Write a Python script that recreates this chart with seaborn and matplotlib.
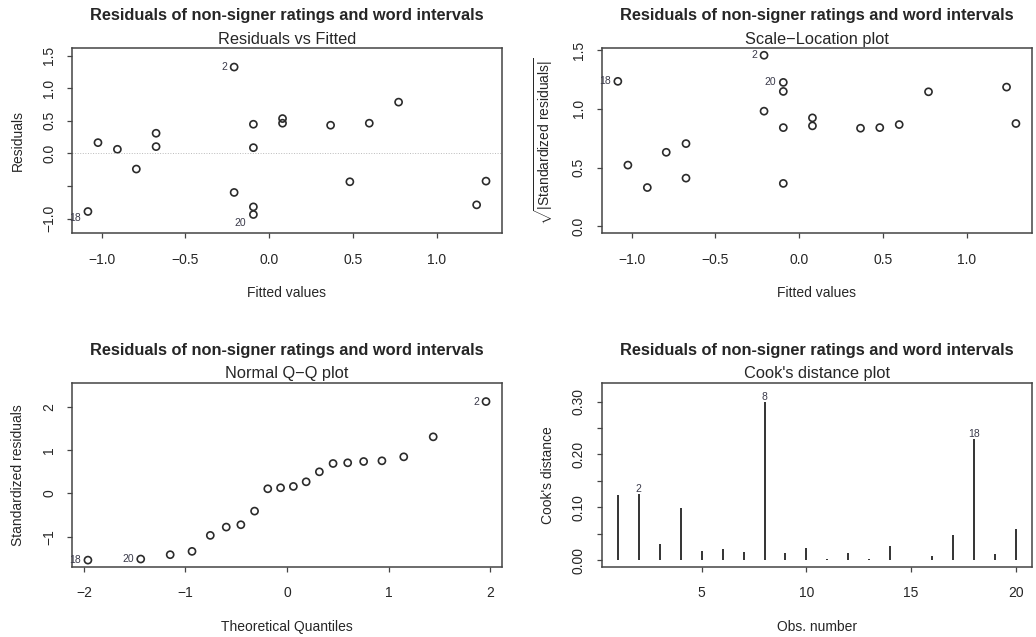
import numpy as np
import pandas as pd
import matplotlib
matplotlib.use("Agg")
import matplotlib.pyplot as plt
import seaborn as sns

# --- dados ---
fitted = [-1.022, -0.906, -0.793, -0.675, -0.675, -1.082, -0.209, -0.209, -0.094, -0.094,
          -0.094, -0.094, 0.080, 0.080, 0.367, 0.482, 0.598, 0.773, 1.239, 1.295]
residuals = [0.164, 0.062, -0.241, 0.308, 0.103, -0.892, 1.323, -0.600, 0.446, 0.087,
             -0.821, -0.938, 0.533, 0.462, 0.431, -0.436, 0.462, 0.785, -0.790, -0.426]
point_ids = ["", "", "", "", "", "18", "2", "", "", "",
             "", "20", "", "", "", "", "", "", "", ""]

sqrt_std_resid = [0.521, 0.330, 0.630, 0.704, 0.410, 1.234, 1.456, 0.980, 0.840, 0.365,
                  1.148, 1.225, 0.923, 0.855, 0.835, 0.840, 0.866, 1.145, 1.185, 0.875]

theo_quant = [-1.960, -1.440, -1.150, -0.935, -0.755, -0.598, -0.454, -0.319, -0.189, -0.063,
              0.063, 0.189, 0.319, 0.454, 0.598, 0.755, 0.935, 1.150, 1.440, 1.960]
std_resid_sorted = [-1.540, -1.515, -1.415, -1.338, -0.969, -0.777, -0.723, -0.408, 0.108, 0.131,
                    0.162, 0.269, 0.500, 0.692, 0.708, 0.738, 0.754, 0.846, 1.308, 2.123]
qq_ids = ["18", "20", "", "", "", "", "", "", "", "",
          "", "", "", "", "", "", "", "", "", "2"]

obs_number = list(range(1, 21))
cooks_d = [0.1225, 0.126, 0.031, 0.098, 0.018, 0.021, 0.016, 0.300, 0.014, 0.023,
           0.002, 0.014, 0.003, 0.026, 0.001, 0.008, 0.047, 0.229, 0.011, 0.059]
cook_ids = ["", "2", "", "", "", "", "", "8", "", "",
            "", "", "", "", "", "", "", "18", "", ""]

main_title = "Residuals of non-signer ratings and word intervals"

sns.set_theme(style="white")
plt.rcParams["font.family"] = ["Liberation Sans", "DejaVu Sans"]
plt.rcParams["mathtext.fontset"] = "custom"
plt.rcParams["mathtext.rm"] = "Liberation Sans"
plt.rcParams["mathtext.it"] = "Liberation Sans"

INK = "#2b2b2b"
LBL = "#3a3a4a"
FS = 10
FT = 11.8


def pad(lo, hi, f=0.04):
    # margem de 4% como no R
    d = hi - lo
    return lo - f * d, hi + f * d


def rotulos(ax, xs, ys, ids, offsets):
    for x, y, lab in zip(xs, ys, ids):
        if lab:
            dx, dy = offsets.get(lab, (-5, 0))
            ax.annotate(lab, (x, y), xytext=(dx, dy), textcoords="offset points",
                        ha="right", va="center", fontsize=7.5, color=LBL)


fig = plt.figure(figsize=(10.36, 6.37), dpi=100)
ax1 = fig.add_axes([0.0695, 0.634, 0.415, 0.290])
ax2 = fig.add_axes([0.581, 0.634, 0.415, 0.290])
ax3 = fig.add_axes([0.0695, 0.110, 0.415, 0.289])
ax4 = fig.add_axes([0.581, 0.110, 0.415, 0.289])

mk = dict(marker="o", s=26, facecolor="none", edgecolor=INK, linewidth=1.2, legend=False)

# 1) Residuals vs Fitted
df1 = pd.DataFrame({"fitted": fitted, "resid": residuals})
sns.scatterplot(data=df1, x="fitted", y="resid", ax=ax1, **mk)
ax1.axhline(0, color="#bbbbbb", lw=0.7, ls=":")
rlo, rhi = min(residuals), max(residuals)
ax1.set_ylim(*pad(rlo - 0.08 * (rhi - rlo), rhi + 0.08 * (rhi - rlo)))
ax1.set_xlim(*pad(min(fitted), max(fitted)))
ax1.set_xticks([-1.0, -0.5, 0.0, 0.5, 1.0])
ax1.set_xticklabels(["-1.0", "-0.5", "0.0", "0.5", "1.0"])
ax1.set_yticks([-1.0, -0.5, 0.0, 0.5, 1.0, 1.5])
ax1.set_yticklabels(["-1.0", "", "0.0", "0.5", "1.0", "1.5"])
rotulos(ax1, fitted, residuals, point_ids, {"18": (-5, -5), "20": (-5, -6)})

# 2) Scale-Location
df2 = pd.DataFrame({"fitted": fitted, "sq": sqrt_std_resid})
sns.scatterplot(data=df2, x="fitted", y="sq", ax=ax2, **mk)
ax2.set_ylim(*pad(0, max(sqrt_std_resid)))
ax2.set_xlim(*pad(min(fitted), max(fitted)))
ax2.set_xticks([-1.0, -0.5, 0.0, 0.5, 1.0])
ax2.set_xticklabels(["-1.0", "-0.5", "0.0", "0.5", "1.0"])
ax2.set_yticks([0.0, 0.5, 1.0, 1.5])
ax2.set_yticklabels(["0.0", "0.5", "1.0", "1.5"])
rotulos(ax2, fitted, sqrt_std_resid, point_ids, {})

# 3) Normal Q-Q
df3 = pd.DataFrame({"q": theo_quant, "r": std_resid_sorted})
sns.scatterplot(data=df3, x="q", y="r", ax=ax3, **mk)
qlo, qhi = min(std_resid_sorted), max(std_resid_sorted)
ax3.set_ylim(*pad(qlo, qhi + 0.075 * (qhi - qlo)))
ax3.set_xlim(*pad(min(theo_quant), max(theo_quant)))
ax3.set_xticks([-2, -1, 0, 1, 2])
ax3.set_xticklabels(["-2", "-1", "0", "1", "2"])
ax3.set_yticks([-1, 0, 1, 2])
ax3.set_yticklabels(["-1", "0", "1", "2"])
rotulos(ax3, theo_quant, std_resid_sorted, qq_ids, {})

# 4) Cook's distance
ax4.vlines(obs_number, 0, cooks_d, color="#333333", lw=1.4)
ax4.set_ylim(*pad(0, max(cooks_d) * 1.075))
ax4.set_xlim(*pad(1, 20))
ax4.set_xticks([5, 10, 15, 20])
ax4.set_xticklabels(["5", "10", "15", "20"])
ax4.set_yticks([0.0, 0.05, 0.10, 0.15, 0.20, 0.25, 0.30])
ax4.set_yticklabels(["0.00", "", "0.10", "", "0.20", "", "0.30"])
for x, y, lab in zip(obs_number, cooks_d, cook_ids):
    if lab:
        ax4.annotate(lab, (x, y), xytext=(0, 3.5), textcoords="offset points",
                     ha="center", va="center", fontsize=7.5, color=LBL)

for ax, sub, xl, yl in [
    (ax1, "Residuals vs Fitted", "Fitted values", "Residuals"),
    (ax2, "Scale\u2212Location plot", "Fitted values", r"$\sqrt{|\mathrm{Standardized\ residuals}|}$"),
    (ax3, "Normal Q\u2212Q plot", "Theoretical Quantiles", "Standardized residuals"),
    (ax4, "Cook's distance plot", "Obs. number", "Cook's distance"),
]:
    ax.set_xticklabels([t.get_text().replace("-", "\u2212") for t in ax.get_xticklabels()])
    ax.set_yticklabels([t.get_text().replace("-", "\u2212") for t in ax.get_yticklabels()])
    for s in ax.spines.values():
        s.set_color("#444444")
        s.set_linewidth(1.1)
    ax.tick_params(axis="x", direction="out", length=3.5, width=0.9, color="#444444",
                   labelsize=FS, pad=10.5, bottom=True)
    ax.tick_params(axis="y", direction="out", length=3.5, width=0.9, color="#444444",
                   labelsize=FS, pad=8, left=True)
    for t in ax.get_yticklabels():
        t.set_rotation(90)
        t.set_va("center")
    ax.set_xlabel(xl, fontsize=FS, labelpad=14)
    ax.set_ylabel(yl, fontsize=FS, labelpad=12)
    ax.set_title(sub, fontsize=FT, pad=3.5)
    ax.annotate(main_title, xy=(0.5, 1.0), xycoords="axes fraction", xytext=(0, 18),
                textcoords="offset points", ha="center", va="bottom",
                fontsize=FT, fontweight="bold")

fig.savefig("out.png", dpi=100, facecolor="white")
